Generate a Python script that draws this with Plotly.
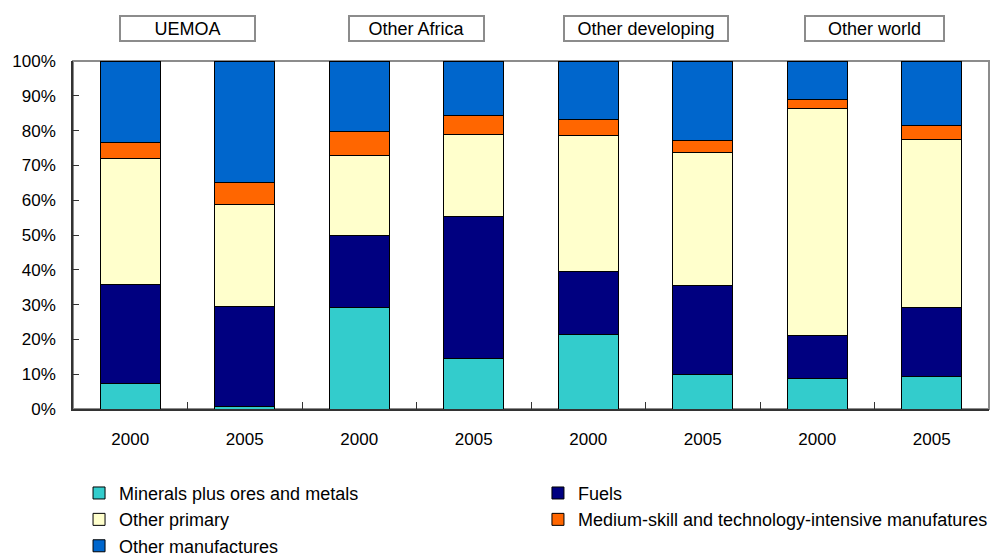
import plotly.graph_objects as go

# Export composition by product group (% of total exports)
groups = ["UEMOA", "Other Africa", "Other developing", "Other world"]
years = ["2000", "2005"]

minerals = [7.3, 0.8, 29.2, 14.4, 21.4, 10.0, 8.9, 9.3]
fuels = [28.4, 28.6, 20.8, 40.9, 18.1, 25.6, 12.3, 19.8]
other_primary = [36.2, 29.5, 22.9, 23.7, 39.1, 38.1, 65.2, 48.3]
medium_skill = [4.6, 6.1, 6.8, 5.3, 4.5, 3.5, 2.6, 4.1]
other_manuf = [23.5, 35.0, 20.3, 15.7, 16.9, 22.8, 11.0, 18.5]

series = [
    ("Minerals plus ores and metals", minerals, "#33CCCC", "legend"),
    ("Fuels", fuels, "#000080", "legend2"),
    ("Other primary", other_primary, "#FFFFCC", "legend"),
    ("Medium-skill and technology-intensive manufatures", medium_skill, "#FF6600", "legend2"),
    ("Other manufactures", other_manuf, "#0066CC", "legend"),
]

FONT = "Liberation Sans, Arial, sans-serif"
n_bars = len(groups) * len(years)
xpos = list(range(n_bars))
xlabels = [y for g in groups for y in years]

fig = go.Figure()
for name, vals, color, leg in series:
    fig.add_trace(go.Bar(
        x=xpos, y=vals, name=name, legend=leg,
        marker=dict(color=color, line=dict(color="#000000", width=1)),
        width=0.525,
    ))

# group captions in boxes above each pair of bars
box_widths = [137, 137, 166, 141]
for i, (g, bw) in enumerate(zip(groups, box_widths)):
    fig.add_annotation(
        x=i * 2 + 0.5, xref="x", y=1.093, yref="paper",
        text=g, showarrow=False,
        font=dict(family=FONT, size=18, color="#000000"),
        bordercolor="#8c8c8c", borderwidth=2, borderpad=1,
        bgcolor="#ffffff", width=bw - 6, height=21,
        xanchor="center", yanchor="middle",
    )

# grey frame round the plot area
fig.add_shape(type="rect", xref="paper", yref="paper", x0=0, y0=0, x1=1, y1=1,
              line=dict(color="#8c8c8c", width=2), layer="below")

legend_style = dict(y=-0.189, xanchor="left", yanchor="top",
                    orientation="v", itemwidth=30, traceorder="normal",
                    font=dict(family=FONT, size=18), bgcolor="rgba(0,0,0,0)",
                    tracegroupgap=0)

fig.update_layout(
    width=998, height=556,
    margin=dict(l=73, r=9, t=61, b=147, autoexpand=False),
    barmode="stack",
    plot_bgcolor="#ffffff", paper_bgcolor="#ffffff",
    font=dict(family=FONT, size=17, color="#000000"),
    showlegend=True,
    legend=dict(x=0.0066, **legend_style),
    legend2=dict(x=0.5076, **legend_style),
    xaxis=dict(
        range=[-0.5, n_bars - 0.5], tickmode="array", tickvals=xpos, ticktext=xlabels,
        ticks="", showgrid=False, zeroline=False,
        showline=True, linecolor="#333333", linewidth=1.5,
        ticklabelstandoff=14,
        minor=dict(tickmode="array", tickvals=[i + 0.5 for i in range(n_bars - 1)],
                   ticks="inside", ticklen=7, tickcolor="#333333", tickwidth=1,
                   showgrid=False),
    ),
    yaxis=dict(
        range=[0, 100], dtick=10, ticksuffix="%", ticks="inside", ticklen=6,
        tickcolor="#333333", showgrid=False, zeroline=False,
        showline=True, linecolor="#333333", linewidth=1.5,
        ticklabelstandoff=12,
    ),
)

fig.write_html("out.html")
